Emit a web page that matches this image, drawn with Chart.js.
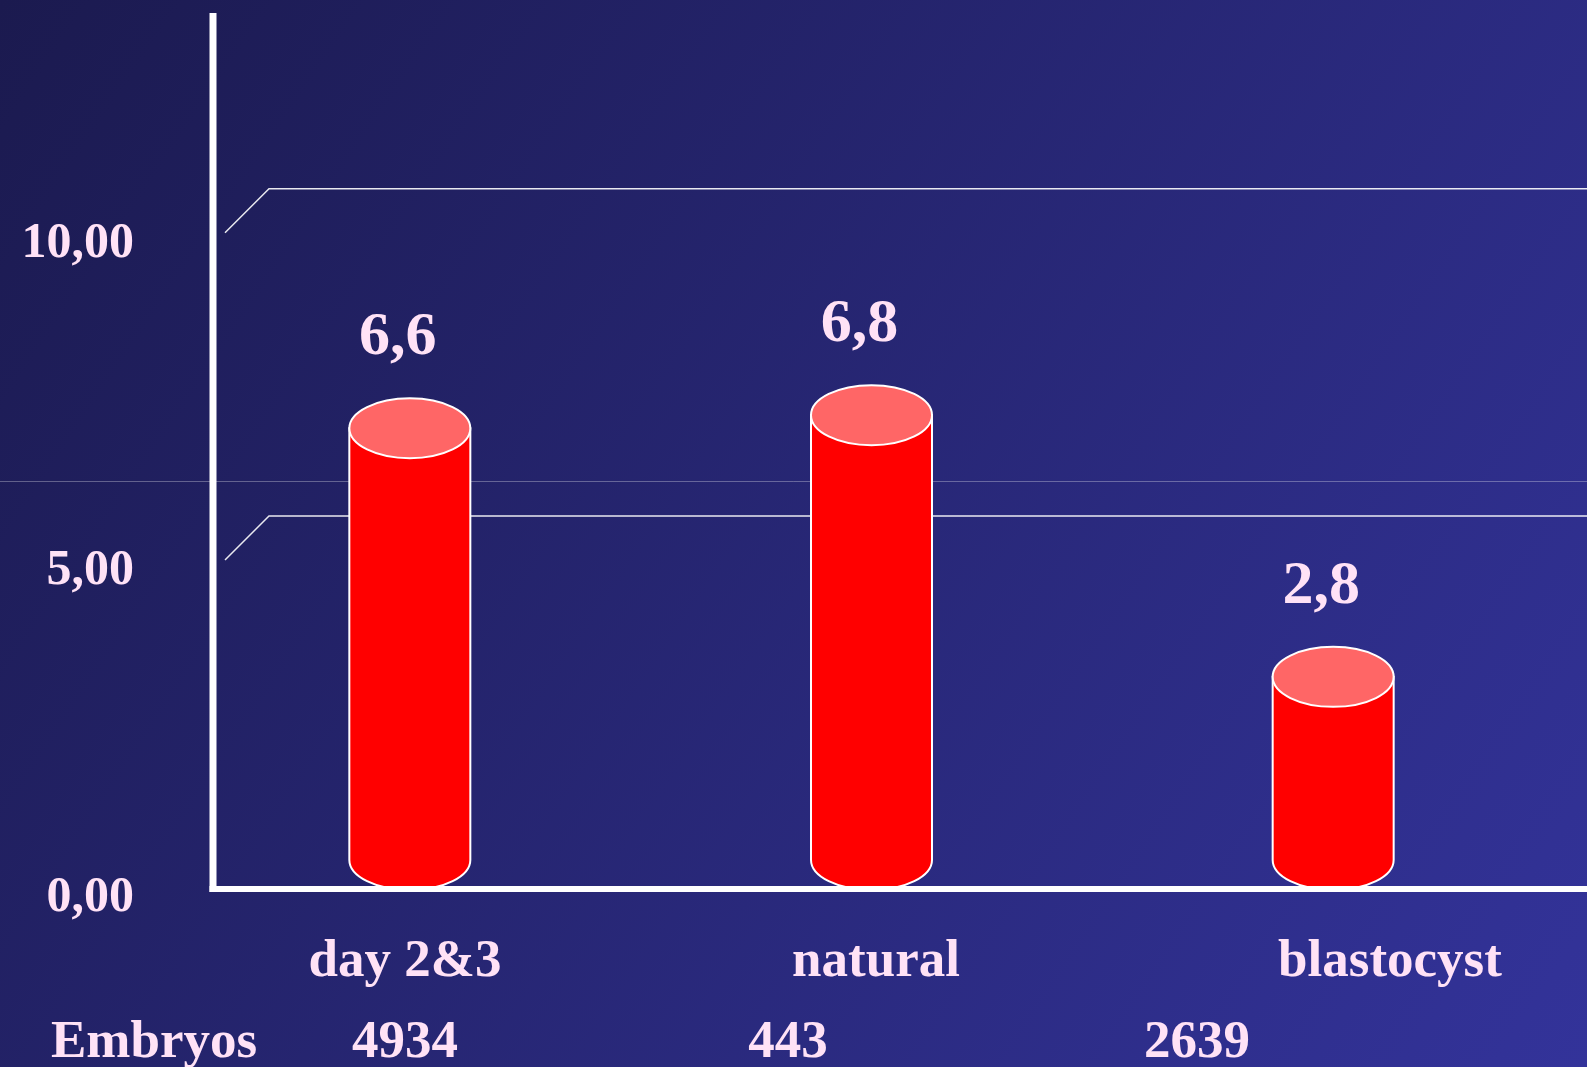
<!DOCTYPE html>
<html>
<head>
<meta charset="utf-8">
<script src="https://cdn.jsdelivr.net/npm/chart.js@4.4.1/dist/chart.umd.min.js"></script>
<style>
  html, body { margin: 0; padding: 0; background: #23236a; }
  #wrap { width: 1587px; height: 1067px; }
</style>
</head>
<body>
<div id="wrap"><canvas id="chart" width="1587" height="1067"></canvas></div>
<script>
// Implantation rate per embryo transfer group
const categories = ["day 2&3", "natural", "blastocyst"]
const rates = [6.6, 6.8, 2.8]
const embryos = [4934, 443, 2639]
const yTicks = [0, 5, 10]

const SERIF = '"Liberation Serif", "Times New Roman", serif'
const TEXT = "#ffe2f6"
const RY = 30 // vertical radius of the cylinder caps
const DEPTH = 44 // back wall offset

const fmt = (v, digits) => v.toFixed(digits).replace(".", ",")

// Slide background: diagonal navy gradient plus a faint rule
const backdrop = {
  id: "backdrop",
  beforeDraw(chart) {
    const { ctx, width, height } = chart
    const g = ctx.createLinearGradient(0, 0, width, height)
    g.addColorStop(0, "#1b1a4f")
    g.addColorStop(1, "#33339a")
    ctx.save()
    ctx.fillStyle = g
    ctx.fillRect(0, 0, width, height)
    ctx.strokeStyle = "rgba(255,255,255,0.3)"
    ctx.lineWidth = 1
    ctx.beginPath()
    ctx.moveTo(0, 481.5)
    ctx.lineTo(width, 481.5)
    ctx.stroke()
    ctx.restore()
  }
}

// Gridlines on the back wall with the short perspective stub
const backWall = {
  id: "backWall",
  beforeDatasetsDraw(chart) {
    const { ctx, chartArea, width, scales: { y } } = chart
    const x0 = chartArea.left + 46
    ctx.save()
    ctx.strokeStyle = "rgba(255,255,255,0.9)"
    ctx.lineWidth = 1.5
    yTicks.filter(v => v > 0).forEach(v => {
      const back = y.getPixelForValue(v) - 17
      ctx.beginPath()
      ctx.moveTo(x0, back + DEPTH)
      ctx.lineTo(x0 + DEPTH, back)
      ctx.lineTo(width, back)
      ctx.stroke()
    })
    ctx.restore()
  }
}

// Bars drawn as cylinders, then the axis lines and the value labels
const cylinders = {
  id: "cylinders",
  afterDatasetsDraw(chart) {
    const { ctx, chartArea, width } = chart
    const meta = chart.getDatasetMeta(0)
    ctx.save()
    ctx.lineWidth = 2
    ctx.strokeStyle = "#ffffff"
    meta.data.forEach(bar => {
      const { x, y, base } = bar.getProps(["x", "y", "base"], true)
      const rx = bar.width / 2
      ctx.beginPath()
      ctx.moveTo(x - rx, y)
      ctx.lineTo(x - rx, base)
      ctx.ellipse(x, base, rx, RY, 0, Math.PI, 0, true)
      ctx.lineTo(x + rx, y)
      ctx.closePath()
      ctx.fillStyle = "#ff0000"
      ctx.fill()
      ctx.stroke()

      ctx.beginPath()
      ctx.ellipse(x, y, rx, RY, 0, 0, Math.PI * 2)
      ctx.fillStyle = "#ff6666"
      ctx.fill()
      ctx.stroke()
    })

    const axisX = chartArea.left + 34
    const floorY = chartArea.bottom + 29
    ctx.fillStyle = "#ffffff"
    ctx.fillRect(axisX - 3.5, 13, 7, floorY - 10)
    ctx.fillRect(axisX - 3.5, floorY - 3, width - axisX + 4, 6)

    ctx.fillStyle = TEXT
    ctx.font = `bold 62px ${SERIF}`
    ctx.textAlign = "center"
    ctx.textBaseline = "alphabetic"
    meta.data.forEach((bar, i) => {
      ctx.fillText(fmt(rates[i], 1), bar.x - 12, bar.y - RY - 44)
    })
    ctx.restore()
  }
}

// Category names and the embryo count row underneath
const footer = {
  id: "footer",
  afterDraw(chart) {
    const { ctx } = chart
    const labelStops = [405, 876, 1390]
    const countStops = [405, 788, 1197]
    ctx.save()
    ctx.fillStyle = TEXT
    ctx.font = `bold 53px ${SERIF}`
    ctx.textBaseline = "alphabetic"
    ctx.textAlign = "center"
    categories.forEach((c, i) => ctx.fillText(c, labelStops[i], 976))
    embryos.forEach((n, i) => ctx.fillText(String(n), countStops[i], 1057))
    ctx.textAlign = "left"
    ctx.fillText("Embryos", 51, 1057)
    ctx.restore()
  }
}

new Chart(document.getElementById("chart"), {
  type: "bar",
  data: {
    labels: categories,
    datasets: [{
      data: rates,
      backgroundColor: "rgba(0,0,0,0)",
      borderWidth: 0,
      barThickness: 121
    }]
  },
  options: {
    responsive: false,
    animation: false,
    layout: { padding: { top: 68, right: 23, bottom: 207, left: 0 } },
    plugins: {
      legend: { display: false },
      tooltip: { enabled: false }
    },
    scales: {
      x: {
        display: false,
        offset: true
      },
      y: {
        min: 0,
        max: 12,
        afterBuildTicks: axis => { axis.ticks = yTicks.map(value => ({ value })) },
        afterFit: axis => { axis.width = 179 },
        border: { display: false },
        grid: { display: false, drawTicks: false },
        ticks: {
          color: TEXT,
          font: { family: SERIF, size: 50, weight: "bold" },
          padding: 45,
          labelOffset: 38,
          callback: v => fmt(v, 2)
        }
      }
    }
  },
  plugins: [backdrop, backWall, cylinders, footer]
})
</script>
</body>
</html>
